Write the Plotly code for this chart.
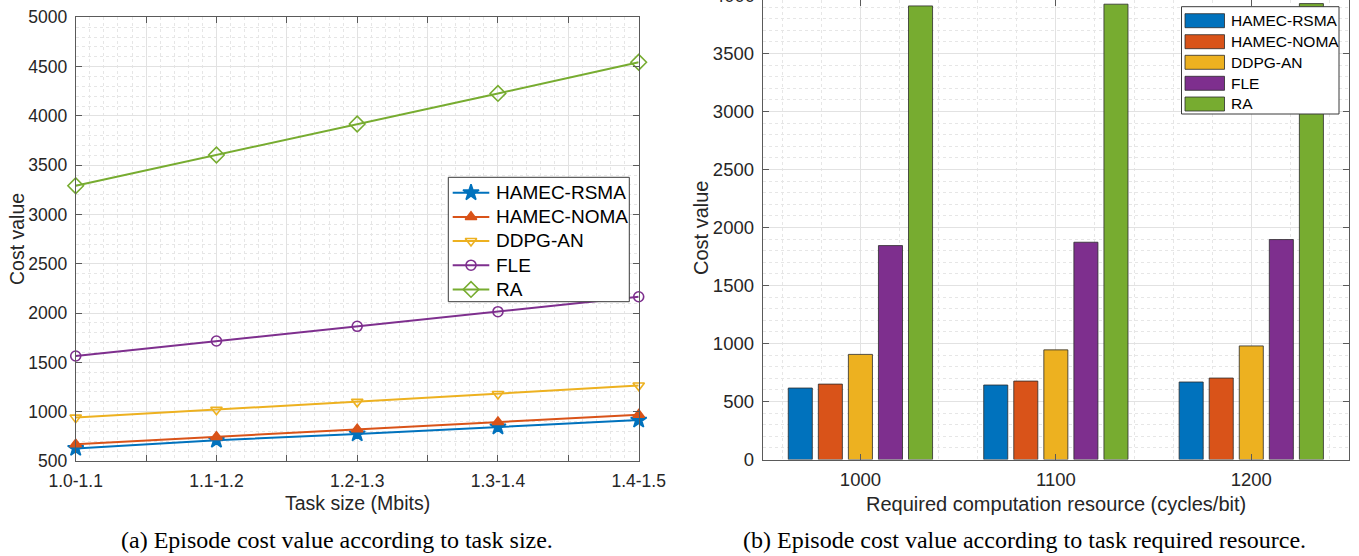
import plotly.graph_objects as go

W, H = 1359, 556

# ---------------- data ----------------
series_names = ["HAMEC-RSMA", "HAMEC-NOMA", "DDPG-AN", "FLE", "RA"]
series_colors = ["#0072BD", "#D95319", "#EDB120", "#7E2F8E", "#77AC30"]
line_symbols = ["star", "triangle-up", "triangle-down-open", "circle-open", "diamond-open"]
symbol_sizes = [12, 10, 10, 10, 12]

task_sizes = ["1.0-1.1", "1.1-1.2", "1.2-1.3", "1.3-1.4", "1.4-1.5"]
cost_rsma = [628, 710, 775, 845, 915]
cost_noma = [670, 745, 822, 895, 970]
cost_ddpg = [940, 1020, 1100, 1180, 1265]
cost_fle = [1565, 1717, 1866, 2014, 2166]
cost_ra = [3292, 3603, 3918, 4228, 4544]

resources = [1000, 1100, 1200]
res_rsma = [616, 642, 668]
res_noma = [650, 676, 702]
res_ddpg = [906, 945, 979]
res_fle = [1844, 1873, 1896]
res_ra = [3910, 3925, 3930]

left_series = [cost_rsma, cost_noma, cost_ddpg, cost_fle, cost_ra]
right_series = [res_rsma, res_noma, res_ddpg, res_fle, res_ra]

# ---------------- helpers ----------------
def px(x):
    return x / W

def py(y):
    return 1 - y / H

SANS = "Liberation Sans, Arial, Helvetica, sans-serif"
SERIF = "Liberation Serif, Times New Roman, serif"
TXT = "#262626"
AX = "#5a5a5a"
GRID = "#e2e2e2"
MINOR = "#e6e6e6"
BOX = "#3a3a3a"

fig = go.Figure()

# ---- left: line chart ----
xpos = list(range(len(task_sizes)))
for name, col, sym, ms, vals in zip(series_names, series_colors, line_symbols, symbol_sizes, left_series):
    fig.add_trace(go.Scatter(
        x=xpos, y=vals, name=name, mode="lines+markers", showlegend=False,
        line=dict(color=col, width=2),
        marker=dict(symbol=sym, size=ms, color=col, line=dict(color=col, width=1.6)),
        cliponaxis=False, xaxis="x", yaxis="y",
    ))

# ---- right: grouped bars ----
for name, col, vals in zip(series_names, series_colors, right_series):
    fig.add_trace(go.Bar(
        x=resources, y=vals, name=name, showlegend=False,
        marker=dict(color=col, line=dict(color="#2b2b2b", width=0.8)),
        xaxis="x2", yaxis="y2",
    ))

# ---- legend of the line chart, drawn on a full-figure overlay (pixel units) ----
lgA_left, lgA_right, lgA_top, lgA_bot = 448.3, 629.3, 177.3, 301.7
lgA_entry_y = [192.7, 216.9, 241.0, 265.2, 289.4]
fig.add_trace(go.Scatter(
    x=[lgA_left, lgA_right, lgA_right, lgA_left, lgA_left],
    y=[lgA_top, lgA_top, lgA_bot, lgA_bot, lgA_top],
    mode="lines", fill="toself", fillcolor="white", line=dict(color=BOX, width=1),
    showlegend=False, hoverinfo="skip", xaxis="x3", yaxis="y3",
))
for name, col, sym, ms, ey in zip(series_names, series_colors, line_symbols, symbol_sizes, lgA_entry_y):
    fig.add_trace(go.Scatter(
        x=[452.7, 471, 489.3], y=[ey, ey, ey], mode="lines",
        line=dict(color=col, width=2), showlegend=False, hoverinfo="skip",
        xaxis="x3", yaxis="y3",
    ))
    fig.add_trace(go.Scatter(
        x=[471], y=[ey], mode="markers",
        marker=dict(symbol=sym, size=ms, color=col, line=dict(color=col, width=1.6)),
        showlegend=False, hoverinfo="skip", xaxis="x3", yaxis="y3",
    ))

x_tickvals = [i * 0.5 for i in range(2 * len(task_sizes) - 1)]
x_ticktext = [task_sizes[int(v)] if v == int(v) else "" for v in x_tickvals]

common_axis = dict(
    showline=True, linecolor=AX, linewidth=1, mirror="ticks",
    ticks="inside", ticklen=6, tickcolor=AX, tickwidth=1,
    showgrid=True, gridcolor=GRID, gridwidth=1, zeroline=False,
    automargin=False,
)

fig.update_layout(
    width=W, height=H,
    margin=dict(l=0, r=0, t=0, b=0, autoexpand=False),
    paper_bgcolor="white", plot_bgcolor="rgba(0,0,0,0)",
    barmode="group", bargap=0.231, bargroupgap=0.2,
    showlegend=False,
    xaxis=dict(
        domain=[px(75.7), px(638.7)], range=[0, len(task_sizes) - 1],
        tickmode="array", tickvals=x_tickvals, ticktext=x_ticktext,
        tickfont=dict(family=SANS, size=17.5, color=TXT),
        ticklabelstandoff=4,
        minor=dict(tickmode="linear", tick0=0, dtick=0.1, showgrid=True,
                   gridcolor=MINOR, griddash="dot", gridwidth=1, ticks=""),
        anchor="y", **common_axis,
    ),
    yaxis=dict(
        domain=[py(461), py(17.3)], range=[500, 5000], dtick=500, tick0=0,
        tickfont=dict(family=SANS, size=17.5, color=TXT),
        ticklabelstandoff=4,
        minor=dict(tickmode="linear", tick0=0, dtick=100, showgrid=True,
                   gridcolor=MINOR, griddash="dot", gridwidth=1, ticks=""),
        anchor="x", **common_axis,
    ),
    xaxis2=dict(
        domain=[px(762.7), px(1349)], range=[950, 1250],
        tickmode="array", tickvals=resources, ticktext=[str(r) for r in resources],
        tickfont=dict(family=SANS, size=18.5, color=TXT),
        ticklabelstandoff=3,
        minor=dict(tickmode="linear", tick0=1000, dtick=20, showgrid=True,
                   gridcolor=MINOR, griddash="dot", gridwidth=1, ticks=""),
        anchor="y2", **common_axis,
    ),
    yaxis2=dict(
        domain=[py(459.5), 1], range=[0, 3961], dtick=500, tick0=0,
        tickfont=dict(family=SANS, size=18.5, color=TXT),
        ticklabelstandoff=4,
        minor=dict(tickmode="linear", tick0=0, dtick=100, showgrid=True,
                   gridcolor=MINOR, griddash="dot", gridwidth=1, ticks=""),
        anchor="x2", **common_axis,
    ),
    xaxis3=dict(domain=[0, 1], range=[0, W], visible=False, fixedrange=True,
                anchor="y3", automargin=False),
    yaxis3=dict(domain=[0, 1], range=[H, 0], visible=False, fixedrange=True,
                anchor="x3", automargin=False),
)

def note(text, x, y, size, family=SANS, color=TXT, angle=0, xanchor="center", yanchor="middle"):
    return dict(text=text, x=px(x), y=py(y), xref="paper", yref="paper",
                xanchor=xanchor, yanchor=yanchor, showarrow=False, textangle=angle,
                font=dict(family=family, size=size, color=color))

annotations = [
    note("Task size (Mbits)", 357, 503, 19.5),
    note("Cost value", 17, 239, 19.5, angle=-90),
    note("Required computation resource (cycles/bit)", 1056, 504, 20),
    note("Cost value", 701, 228, 20, angle=-90),
    note("4000", 757, -4.5, 18.5, xanchor="right"),
    note("(a) Episode cost value according to task size.", 337, 540, 24, family=SERIF, color="black"),
    note("(b) Episode cost value according to task required resource.", 1024, 540, 24,
         family=SERIF, color="black"),
]
for name, ey in zip(series_names, lgA_entry_y):
    annotations.append(note(name, 494, ey, 19, color="black", xanchor="left"))

# legend of the bar chart
shapes = []
lgB_left, lgB_right, lgB_top, lgB_bot = 1181.5, 1339, 6.7, 114
shapes.append(dict(type="rect", xref="paper", yref="paper", x0=px(lgB_left), x1=px(lgB_right),
                   y0=py(lgB_bot), y1=py(lgB_top), fillcolor="white", line=dict(color=BOX, width=1),
                   layer="above"))
lgB_entry_y = [20.7, 41.7, 62.3, 83.3, 104]
for name, col, ey in zip(series_names, series_colors, lgB_entry_y):
    shapes.append(dict(type="rect", xref="paper", yref="paper", x0=px(1185), x1=px(1224.5),
                       y0=py(ey + 7), y1=py(ey - 7), fillcolor=col,
                       line=dict(color="#2b2b2b", width=0.8), layer="above"))
    annotations.append(note(name, 1229, ey, 15.5, color="black", xanchor="left"))

fig.update_layout(annotations=annotations, shapes=shapes)

fig.write_html("out.html")
